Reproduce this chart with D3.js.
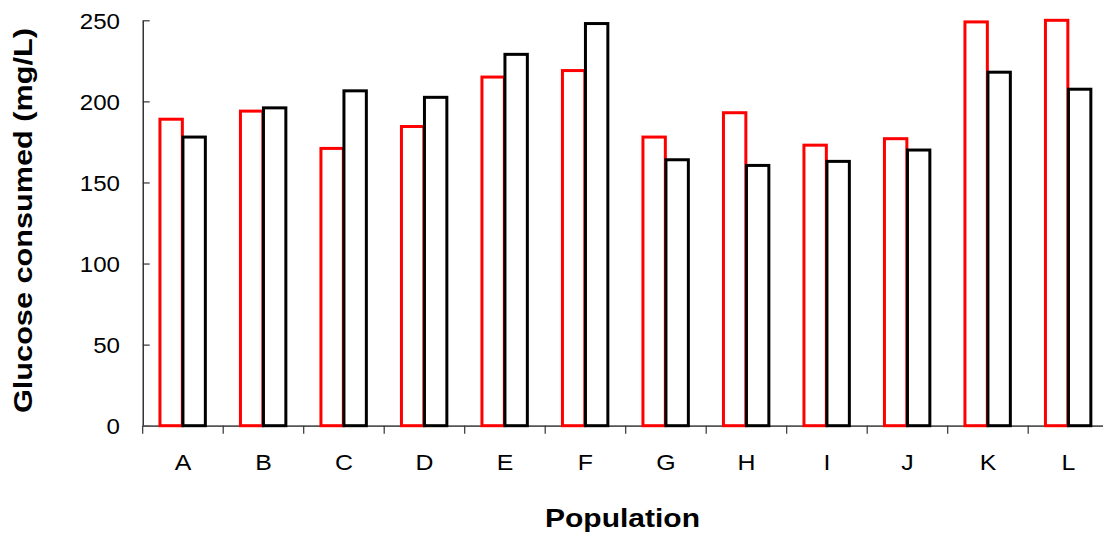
<!DOCTYPE html>
<html lang="en">
<head>
  <meta charset="UTF-8" />
  <title>Glucose consumed</title>
  <script src="https://d3js.org/d3.v7.min.js"></script>
  <style>
    body { margin: 0; background: #fff; }
    text { font-family: "Liberation Sans", Arial, sans-serif; fill: #000; }
  </style>
</head>
<body>
  <div id="chart"></div>

  <script>
    // data
    let populations = ["A", "B", "C", "D", "E", "F", "G", "H", "I", "J", "K", "L"];
    let redValues   = [189, 194, 171, 184.5, 215, 219, 178, 193, 173, 177, 249, 250];
    let blackValues = [178, 196, 206.5, 202.5, 229, 248, 164, 160.5, 163, 170, 218, 207.5];
    let yTicks = [0, 50, 100, 150, 200, 250];

    let series = [
      { name: "red", color: "#ff0000", values: redValues },
      { name: "black", color: "#000000", values: blackValues }
    ];

    let margin = {top: 20.3, left: 142.7},
        plotWidth = 80.5 * populations.length,
        plotHeight = 405.4;

    let svg = d3.select("#chart")
      .append("svg")
        .attr("width", 1103)
        .attr("height", 539);

    let g = svg.append("g")
        .attr("transform", "translate(" + margin.left + "," + margin.top + ")");

    let x = d3.scaleBand()
      .domain(populations)
      .range([0, plotWidth])
      .padding(0);

    // two bars per group, gap width 150%
    let x1 = d3.scaleBand()
      .domain(series.map(function(s) { return s.name; }))
      .range([0, x.bandwidth()])
      .paddingInner(0)
      .paddingOuter(0.75);

    let y = d3.scaleLinear()
      .domain([0, 250])
      .range([plotHeight, 0]);

    // stretch text a little wider, like the original rendering
    function widen(sel, k) {
      sel.each(function() {
        let len = this.getComputedTextLength();
        d3.select(this)
          .attr("textLength", len * k)
          .attr("lengthAdjust", "spacingAndGlyphs");
      });
    }

    // y axis
    let yAxis = g.append("g")
      .call(d3.axisLeft(y).tickValues(yTicks).tickSizeInner(-7).tickSizeOuter(0));
    yAxis.select(".domain").attr("stroke", "#000").attr("stroke-width", 1.2);
    yAxis.selectAll(".tick line").attr("stroke", "#333").attr("stroke-width", 1.2);
    yAxis.selectAll(".tick text")
      .attr("x", -22.7)
      .attr("dy", "0.36em")
      .style("font-size", "21.5px");
    widen(yAxis.selectAll(".tick text"), 1.12);

    // x axis: labels at group centres, ticks at group boundaries
    let xAxis = g.append("g")
      .attr("transform", "translate(0," + plotHeight + ")")
      .call(d3.axisBottom(x).tickSize(0));
    xAxis.select(".domain").attr("stroke", "#555").attr("stroke-width", 1.8);
    xAxis.selectAll(".tick text")
      .attr("y", 44)
      .attr("dy", 0)
      .style("font-size", "22px");
    widen(xAxis.selectAll(".tick text"), 1.13);

    xAxis.selectAll("boundaryTick")
      .data(populations)
      .enter()
      .append("line")
        .attr("x1", function(d) { return x(d); })
        .attr("x2", function(d) { return x(d); })
        .attr("y1", 0)
        .attr("y2", 8)
        .attr("stroke", "#333")
        .attr("stroke-width", 1.2);

    // bars
    series.forEach(function(s) {
      g.selectAll("bar-" + s.name)
        .data(s.values)
        .enter()
        .append("rect")
          .attr("x", function(d, i) { return x(populations[i]) + x1(s.name); })
          .attr("y", function(d) { return y(d); })
          .attr("width", x1.bandwidth() - 0.6)
          .attr("height", function(d) { return y(0) - y(d); })
          .attr("fill", "none")
          .attr("stroke", s.color)
          .attr("stroke-width", 3);
    });

    // axis titles
    let yTitle = svg.append("text")
      .attr("transform", "translate(32," + 220.5 + ") rotate(-90)")
      .attr("text-anchor", "middle")
      .style("font-size", "25.5px")
      .style("font-weight", "bold")
      .text("Glucose consumed (mg/L)");
    yTitle.attr("textLength", 385).attr("lengthAdjust", "spacingAndGlyphs");

    let xTitle = svg.append("text")
      .attr("x", 622.5)
      .attr("y", 527.3)
      .attr("text-anchor", "middle")
      .style("font-size", "26.5px")
      .style("font-weight", "bold")
      .text("Population");
    xTitle.attr("textLength", 155).attr("lengthAdjust", "spacingAndGlyphs");
  </script>
</body>
</html>
